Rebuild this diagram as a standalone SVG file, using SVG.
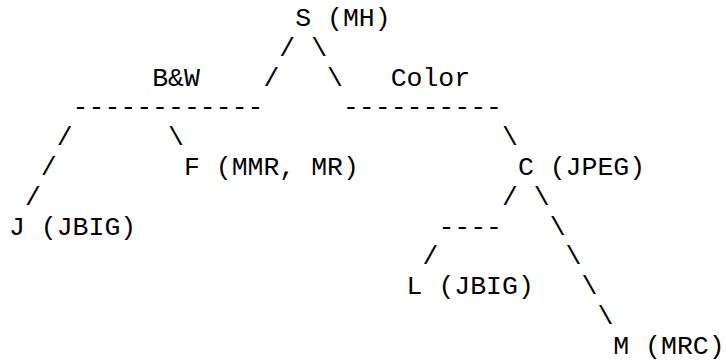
<svg xmlns="http://www.w3.org/2000/svg" width="726" height="362" viewBox="0 0 726 362">
<style>
text{font-family:"Liberation Mono","Courier New",monospace;font-size:26.5px;fill:#000;white-space:pre}
</style>
<rect width="726" height="362" fill="#fff"/>
<g id="connectors">
<text x="279.35" y="55.8">/</text><text x="311.16" y="55.8">\</text>
<text x="263.45" y="85.6">/</text><text x="327.06" y="85.6">\</text>
<text x="72.61" y="115.4">------------</text>
<text x="342.96" y="115.4">----------</text>
<text x="56.71" y="145.2">/</text><text x="168.03" y="145.2">\</text><text x="501.99" y="145.2">\</text>
<text x="40.81" y="175">/</text>
<text x="24.9" y="204.8">/</text><text x="501.99" y="204.8">/</text><text x="533.8" y="204.8">\</text>
<text x="438.38" y="234.6">----</text><text x="549.7" y="234.6">\</text>
<text x="422.48" y="264.4">/</text><text x="565.61" y="264.4">\</text>
<text x="581.51" y="294.2">\</text>
<text x="597.41" y="324">\</text>
</g>
<g id="node-S"><text x="295.25" y="26">S (MH)</text></g>
<g id="label-bw"><text x="152.13" y="85.6">B&amp;W</text></g>
<g id="label-color"><text x="390.67" y="85.6">Color</text></g>
<g id="node-F"><text x="183.93" y="175">F (MMR, MR)</text></g>
<g id="node-C"><text x="517.9" y="175">C (JPEG)</text></g>
<g id="node-J"><text x="9" y="234.6">J (JBIG)</text></g>
<g id="node-L"><text x="406.58" y="294.2">L (JBIG)</text></g>
<g id="node-M"><text x="613.31" y="353.8">M (MRC)</text></g>
</svg>
